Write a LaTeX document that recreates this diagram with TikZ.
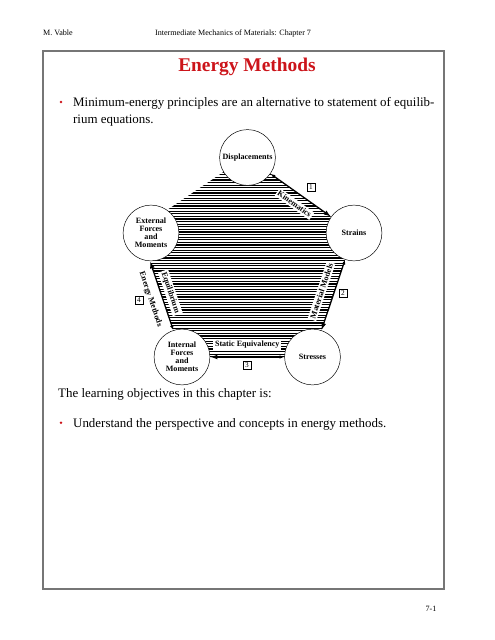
\documentclass[tikz,border=0pt]{standalone}
\usepackage{fontspec}
\setmainfont{Liberation Serif}
\usetikzlibrary{arrows.meta, positioning, backgrounds}
\definecolor{titlered}{RGB}{204,20,26}
\definecolor{framegray}{RGB}{118,118,118}

\begin{document}
\begin{tikzpicture}[
        x=1.2364pt,
        y=-1.2364pt,
        circ/.style={circle, draw, line width=0.6pt, fill=white, minimum size=69pt,
            inner sep=0.5pt, align=center, font=\bfseries\fontsize{10}{10}\selectfont},
        link/.style={line width=1.6pt},
        lab/.style={fill=white, inner sep=2pt, font=\bfseries\fontsize{10}{11}\selectfont},
        outlab/.style={inner sep=2pt, font=\bfseries\fontsize{10}{11}\selectfont},
        numbox/.style={draw, line width=0.6pt, inner sep=1pt, minimum size=9.5pt,
            font=\fontsize{9}{9}\selectfont},
        hdr/.style={inner sep=0pt, font=\fontsize{10}{12}\selectfont},
        body/.style={inner sep=0pt, font=\fontsize{16}{21}\selectfont},
        hatchline/.style={line width=1.4pt}
    ]
        \useasboundingbox (0,0) rectangle (495,640);

        % page header, frame and footer
        \node[hdr, anchor=base west] (author) at (43,35.5) {M. Vable};
        \node[hdr, anchor=base west] (chapter) at (155,35.5) {Intermediate Mechanics of Materials: Chapter 7};
        \draw[framegray, line width=1.5pt] (43,51) rectangle (444,589);
        \node[hdr, anchor=base] (page) at (431,611) {7-1};

        \node[anchor=base, inner sep=0pt, text=titlered, font=\bfseries\fontsize{24}{28}\selectfont]
            (title) at (247,71.7) {Energy Methods};

        \fill[titlered] (61,102) circle (1.7pt);
        \node[body, anchor=base west] (intro) at (73,106.5)
            {Minimum-energy principles are an alternative to statement of equilib-};
        \node[body, anchor=base west] (introb) at (73,123.5) {rium equations.};

        % the five quantities
        \node[circ] (disp) at (247.5,157.5) {Displacements};
        \node[circ] (strn) at (354,233) {Strains};
        \node[circ] (strs) at (312.5,357) {Stresses};
        \node[circ] (intf) at (182,357) {Internal\\Forces\\and\\Moments};
        \node[circ] (extf) at (151,233) {External\\Forces\\and\\Moments};

        % hatched interior
        \begin{scope}[on background layer]
            \clip (disp.211) -- (disp.center) -- (strn.center) -- (strs.center) -- (intf.center)
                -- (intf.108) -- (extf.-92) -- (extf.center) -- (extf.55) -- cycle;
            \foreach \yy in {128,130.6,...,362}
                \draw[hatchline] (100,\yy) -- (400,\yy);
        \end{scope}

        % links
        \draw[link, {Latex[open,length=6pt,width=4.5pt]}-{Latex[length=9pt,width=6pt]}]
            (disp) -- (strn) node[midway, sloped, below=7pt, lab] {Kinematics};
        \draw[link, {Latex[open,length=6pt,width=4.5pt]}-{Latex[length=9pt,width=6pt]}]
            (strn) -- (strs) node[midway, sloped, above=9pt, lab] {Material Models};
        \draw[link, {Latex[length=9pt,width=6pt]}-{Latex[open,length=6pt,width=4.5pt]}]
            (intf) -- (strs) node[midway, above=8pt, lab] {Static Equivalency};
        \draw[link, {Latex[length=9pt,width=6pt]}-{Latex[open,length=6pt,width=4.5pt]}]
            (extf.-92) -- (intf.108) node[midway, sloped, above=4pt, lab] {Equilibrium}
            node[midway, sloped, below=7pt, outlab] {Energy Methods};

        \node[numbox] (n1) at (311,187) {1};
        \node[numbox] (n2) at (343,293) {2};
        \node[numbox] (n3) at (247,365) {3};
        \node[numbox] (n4) at (139,300) {4};

        % objectives
        \node[body, anchor=base west] (goal) at (58,397) {The learning objectives in this chapter is:};
        \fill[titlered] (61,422.7) circle (1.7pt);
        \node[body, anchor=base west] (goalb) at (73,427.3)
            {Understand the perspective and concepts in energy methods.};
    \end{tikzpicture}
\end{document}
